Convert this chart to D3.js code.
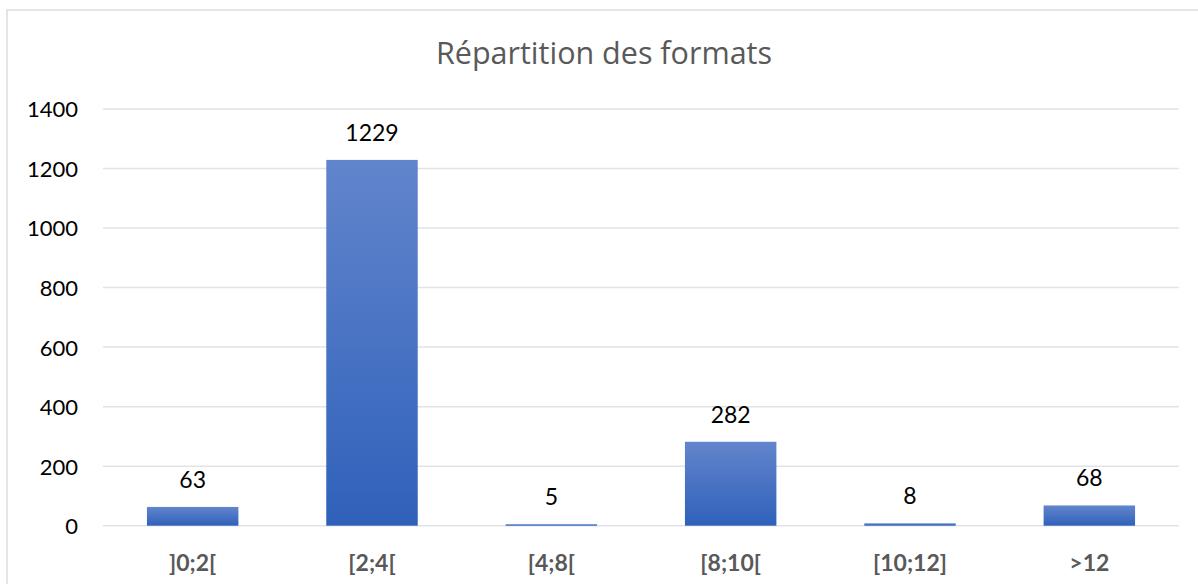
<!DOCTYPE html>
<html><head><meta charset="utf-8">
<script src="https://cdn.jsdelivr.net/npm/d3@7"></script>
<style>
html,body{margin:0;padding:0;background:#fff;}
svg{display:block;font-family:Lato,"Open Sans",sans-serif;}
</style></head>
<body>
<svg id="c" width="1198" height="584"></svg>
<script>
const title = "Répartition des formats";
const categories = ["]0;2[", "[2;4[", "[4;8[", "[8;10[", "[10;12]", ">12"];
const values = [63, 1229, 5, 282, 8, 68];
const yTicks = [0, 200, 400, 600, 800, 1000, 1200, 1400];

const svg = d3.select("#c");
const W = 1198, H = 584;
const m = {left: 103, right: 19, top: 109, bottom: 58};

// chart border
svg.append("rect").attr("x", 7).attr("y", 10).attr("width", 1200).attr("height", 600)
  .attr("fill", "#fff").attr("stroke", "#d9dde4").attr("stroke-width", 1.5);

const defs = svg.append("defs");
const grad = defs.append("linearGradient").attr("id", "bg")
  .attr("x1", 0).attr("y1", 0).attr("x2", 0).attr("y2", 1);
grad.append("stop").attr("offset", "0%").attr("stop-color", "#6285cc");
grad.append("stop").attr("offset", "100%").attr("stop-color", "#2f61ba");

const x = d3.scaleBand().domain(categories).range([m.left, W - m.right]).paddingInner(0.49).paddingOuter(0.245);
const y = d3.scaleLinear().domain([0, 1400]).range([525.7, 109]);

// title
svg.append("text").attr("x", 604).attr("y", 64).attr("text-anchor", "middle")
  .attr("font-family", "'Open Sans'").attr("font-size", 30.5).attr("fill", "#595959").text(title);

// gridlines
svg.append("g").selectAll("line").data(yTicks).join("line")
  .attr("x1", m.left).attr("x2", W - m.right)
  .attr("y1", d => y(d)).attr("y2", d => y(d))
  .attr("stroke", "#e0e3ea").attr("stroke-width", 1.5);

// y axis labels
const yAxis = d3.axisLeft(y).tickValues(yTicks).tickFormat(d3.format("d")).tickSize(0).tickPadding(0);
const ga = svg.append("g").attr("transform", "translate(78,0)").call(yAxis);
ga.select(".domain").remove();
ga.selectAll("text").attr("font-size", 22).attr("fill", "#000").attr("font-family", "Lato").attr("dy", "0.36em");

// bars
svg.append("g").selectAll("rect").data(values).join("rect")
  .attr("x", (d, i) => x(categories[i]))
  .attr("width", x.bandwidth())
  .attr("y", d => y(d))
  .attr("height", d => y(0) - y(d))
  .attr("fill", "url(#bg)");

// data labels
svg.append("g").selectAll("text").data(values).join("text")
  .attr("x", (d, i) => x(categories[i]) + x.bandwidth() / 2)
  .attr("y", d => y(d) - 19)
  .attr("text-anchor", "middle").attr("font-size", 23).attr("fill", "#000")
  .text(d => d);

// x axis labels
const xAxis = d3.axisBottom(x).tickSize(0).tickPadding(0);
const gx = svg.append("g").attr("transform", "translate(0,571)").call(xAxis);
gx.select(".domain").remove();
gx.selectAll("text").attr("font-size", 23).attr("font-weight", "bold").attr("fill", "#595959")
  .attr("font-family", "Lato").attr("dy", 0);
</script>
</body></html>
